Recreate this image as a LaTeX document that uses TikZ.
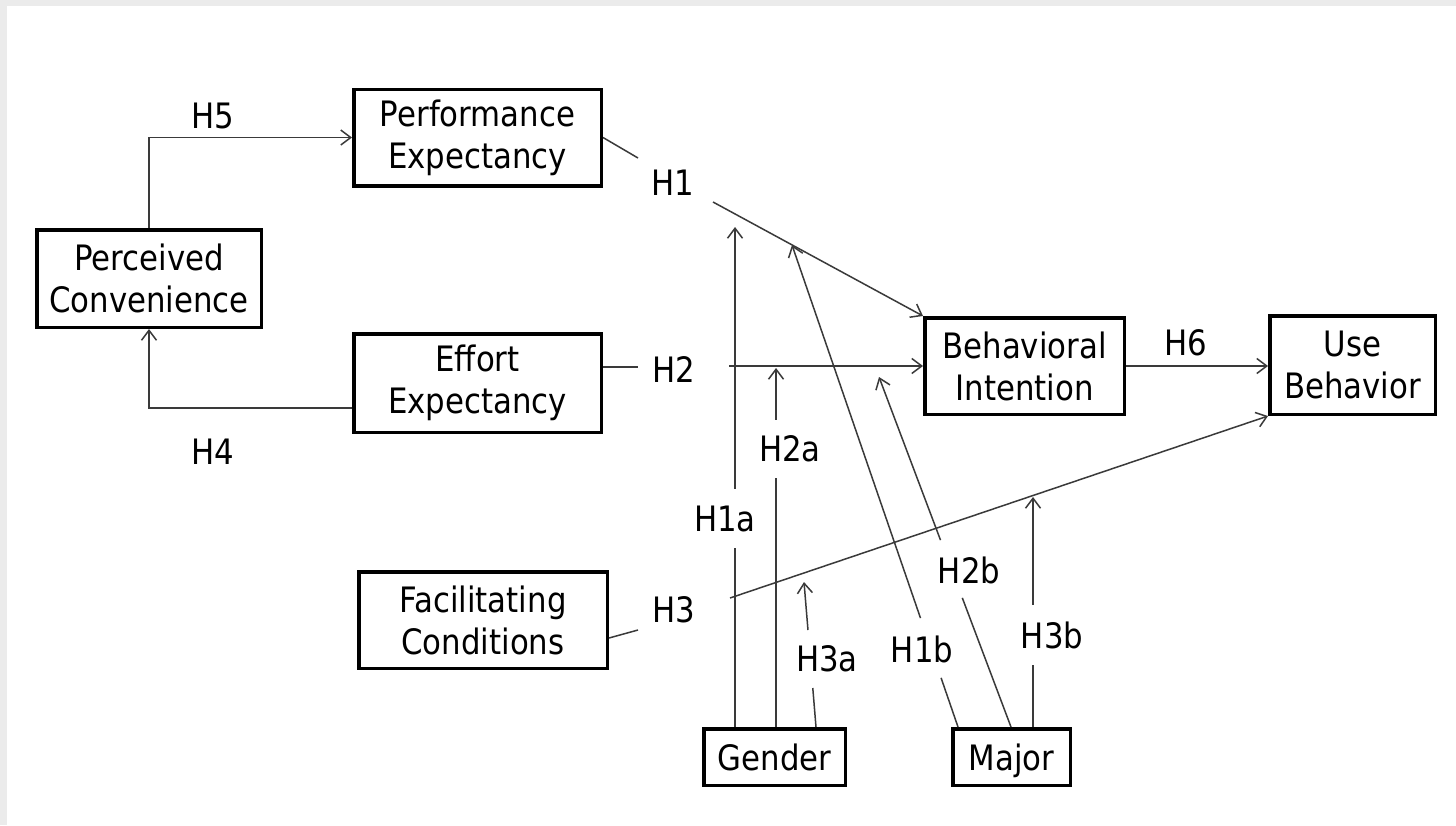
\documentclass[tikz,border=0pt]{standalone}
\usepackage{fontspec}
\setmainfont{DejaVu Sans}[FakeStretch=0.88]
\usetikzlibrary{arrows.meta,calc}
\definecolor{linegray}{HTML}{3A3A3A}
\definecolor{framegray}{HTML}{EBEBEB}
\begin{document}
\begin{tikzpicture}[x=1pt,y=-1pt,
  box/.style={draw=black,line width=3.5pt,fill=white,align=center,inner sep=0pt,
              font=\fontsize{35}{42}\selectfont},
  lab/.style={inner sep=0pt,font=\fontsize{35}{42}\selectfont},
  conn/.style={draw=linegray,line width=1.5pt},
  arr/.style={conn,-{Straight Barb[length=10pt,width=15pt,line width=1.5pt]}}]
\useasboundingbox (0,0) rectangle (1456,825);
\fill[framegray] (0,0) rectangle (1456,825);
\fill[white] (7,6) rectangle (1456,825);

% boxes
\node[box,minimum width=224.5pt,minimum height=97.5pt] (pc) at (149,278.5) {Perceived\\Convenience};
\node[box,minimum width=247.5pt,minimum height=96.5pt] (pe) at (477.5,137.5) {Performance\\Expectancy};
\node[box,minimum width=247.5pt,minimum height=98.5pt] (ee) at (477.5,383) {Effort\\Expectancy};
\node[box,minimum width=248.5pt,minimum height=96.5pt] (fc) at (483,620) {Facilitating\\Conditions};
\node[box,minimum width=199.5pt,minimum height=96.5pt] (bi) at (1024.5,366) {Behavioral\\Intention};
\node[box,minimum width=165.5pt,minimum height=98.5pt] (ub) at (1352.5,365) {Use\\Behavior};
\node[box,minimum width=141.5pt,minimum height=56.5pt,text height=26pt,text depth=0pt] (gender) at (774.5,757) {Gender};
\node[box,minimum width=117.5pt,minimum height=56.5pt,text height=26pt,text depth=0pt] (major) at (1011.5,757) {Major};

% path labels
\node[lab] (h1) at (673,183) {H1};
\node[lab] (h2) at (674,370) {H2};
\node[lab] (h3) at (674,610) {H3};
\node[lab] (h4) at (213,452) {H4};
\node[lab] (h5) at (213,116) {H5};
\node[lab] (h6) at (1186,343) {H6};
\node[lab,minimum height=59pt] (h1a) at (725,518.5) {H1a};
\node[lab,minimum height=58pt] (h2a) at (790,449) {H2a};
\node[lab,minimum height=58pt] (h3a) at (827,659) {H3a};
\node[lab] (h1b) at (922,649) {H1b};
\node[lab] (h2b) at (969,570) {H2b};
\node[lab,minimum height=60pt] (h3b) at (1052,635) {H3b};

% helper coordinates
\coordinate (h1in) at (638,158);
\coordinate (h1out) at (713,202);
\coordinate (h2in) at (638,367);
\coordinate (h2out) at (729,366);
\coordinate (h3start) at (0,638);
\coordinate (h3in) at (638,630);
\coordinate (h3out) at (730,598);
\coordinate (c4) at (0,408);

% main paths
\draw[arr] (pc.north) |- (pe.west);
\draw[arr] (ee.west |- c4) -| (pc.south);
\draw[conn] (pe.east) -- (h1in);
\draw[arr] (h1out) -- (bi.north west);
\draw[conn] (ee.east |- h2in) -- (h2in);
\draw[arr] (h2out) -- (bi.west |- h2out);
\draw[conn] (fc.east |- h3start) -- (h3in);
\draw[arr] (h3out) -- (ub.south west);
\draw[arr] (bi.east) -- (ub.west |- bi.east);

% moderators: Gender
\coordinate (t1a) at (735,227);
\draw[conn] (gender.north -| t1a) -- (h1a.south -| t1a);
\draw[arr] (h1a.north -| t1a) -- (t1a);
\coordinate (t2a) at (776,368);
\draw[conn] (gender.north -| t2a) -- (h2a.south -| t2a);
\draw[arr] (h2a.north -| t2a) -- (t2a);
\coordinate (x3a) at (816,0);
\coordinate (b3a) at (gender.north -| x3a);
\coordinate (t3a) at (804,582);
\draw[conn] (b3a) -- ($(b3a)!0.269!(t3a)$);
\draw[arr] ($(b3a)!0.669!(t3a)$) -- (t3a);

% moderators: Major
\coordinate (x1b) at (958,0);
\coordinate (b1b) at (major.north -| x1b);
\coordinate (t1b) at (792,245);
\draw[conn] (b1b) -- ($(b1b)!0.102!(t1b)$);
\draw[arr] ($(b1b)!0.226!(t1b)$) -- (t1b);
\coordinate (x2b) at (1011,0);
\coordinate (b2b) at (major.north -| x2b);
\coordinate (t2b) at (879,377);
\draw[conn] (b2b) -- ($(b2b)!0.369!(t2b)$);
\draw[arr] ($(b2b)!0.534!(t2b)$) -- (t2b);
\coordinate (t3b) at (1033,497);
\draw[conn] (major.north -| t3b) -- (h3b.south -| t3b);
\draw[arr] (h3b.north -| t3b) -- (t3b);
\end{tikzpicture}
\end{document}
